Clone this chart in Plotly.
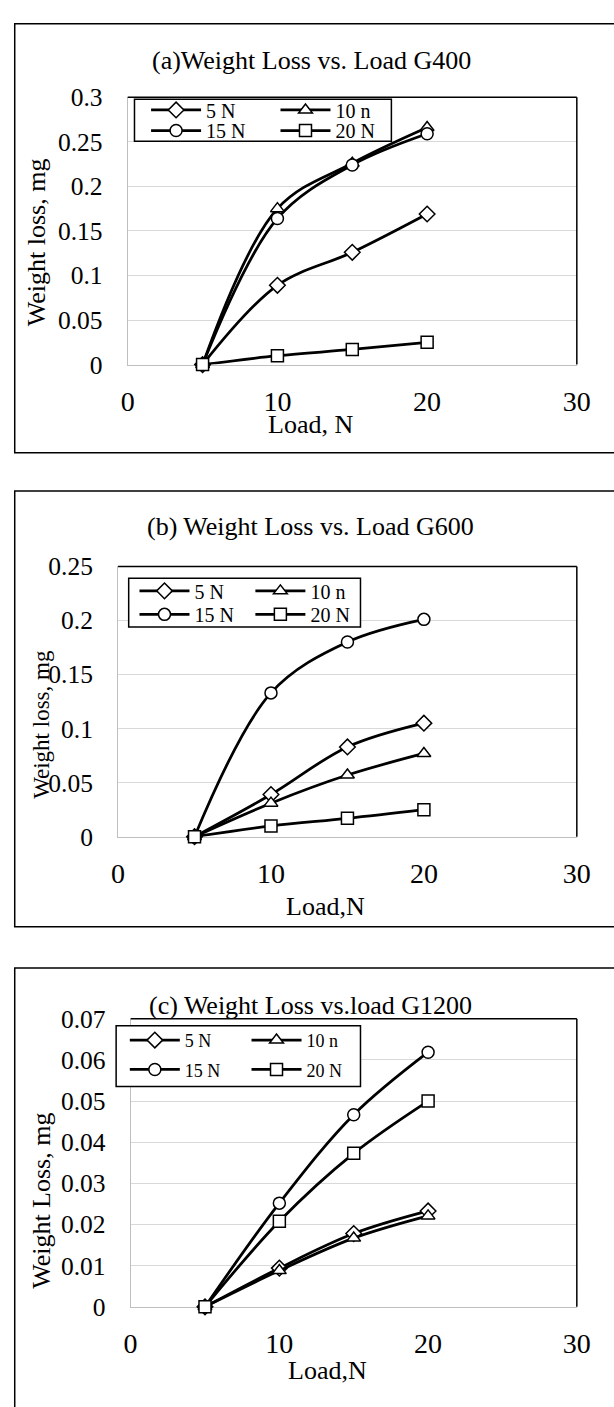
import plotly.graph_objects as go

W, H = 614, 1407
FONT = "Liberation Serif, Times New Roman, serif"

# Load values (N) shared by every panel
loads = [5, 10, 15, 20]

# Series names and marker symbols
series_names = ["5 N", "10 n", "15 N", "20 N"]
series_symbols = ["diamond", "triangle-up", "circle", "square"]

# (a) G400 weight loss, mg
g400_5N = [0, 0.089, 0.126, 0.169]
g400_10n = [0, 0.175, 0.226, 0.266]
g400_15N = [0, 0.164, 0.224, 0.259]
g400_20N = [0, 0.010, 0.017, 0.025]

# (b) G600 weight loss, mg
g600_5N = [0, 0.039, 0.083, 0.105]
g600_10n = [0, 0.031, 0.057, 0.077]
g600_15N = [0, 0.133, 0.180, 0.201]
g600_20N = [0, 0.010, 0.017, 0.025]

# (c) G1200 weight loss, mg
g1200_5N = [0, 0.0094, 0.0178, 0.0233]
g1200_10n = [0, 0.0088, 0.0167, 0.0221]
g1200_15N = [0, 0.0252, 0.0467, 0.0619]
g1200_20N = [0, 0.0208, 0.0373, 0.0500]

# Axis tick values
x_ticks = [0, 10, 20, 30]
y_ticks_a = [0, 0.05, 0.1, 0.15, 0.2, 0.25, 0.3]
y_ticks_b = [0, 0.05, 0.1, 0.15, 0.2, 0.25]
y_ticks_c = [0, 0.01, 0.02, 0.03, 0.04, 0.05, 0.06, 0.07]


def px_x(v):
    """Pixel column -> paper x."""
    return v / W


def px_y(v):
    """Pixel row (from top) -> paper y."""
    return 1 - v / H


panels = [
    dict(
        series=[g400_5N, g400_10n, g400_15N, g400_20N],
        yticks=y_ticks_a,
        title="(a)Weight Loss vs. Load G400",
        title_xy=(315, 47),
        xlabel="Load, N", xlabel_xy=(314, 419),
        ylabel="Weight loss, mg", ylabel_xy=(30, 233), ylabel_size=26,
        plot=(125, 590, 85, 358),
        frame=(8, 640, 10, 448),
        legend_box=(132, 398, 87, 130),
        legend_cols=(175, 309), legend_rows=(98, 119), legend_size=20,
    ),
    dict(
        series=[g600_5N, g600_10n, g600_15N, g600_20N],
        yticks=y_ticks_b,
        title="(b) Weight Loss vs. Load G600",
        title_xy=(314, 523),
        xlabel="Load,N", xlabel_xy=(330, 911),
        ylabel="Weight loss, mg", ylabel_xy=(35, 725), ylabel_size=23,
        plot=(115, 590, 564, 840),
        frame=(8, 640, 487, 932),
        legend_box=(126, 366, 576, 626),
        legend_cols=(163, 283), legend_rows=(589, 613), legend_size=20,
    ),
    dict(
        series=[g1200_5N, g1200_10n, g1200_15N, g1200_20N],
        yticks=y_ticks_c,
        title="(c) Weight Loss vs.load G1200",
        title_xy=(314, 1012),
        xlabel="Load,N", xlabel_xy=(332, 1385),
        ylabel="Weight Loss, mg", ylabel_xy=(35, 1212), ylabel_size=26,
        plot=(128, 590, 1026, 1320),
        frame=(8, 640, 974, 1440),
        legend_box=(113, 366, 1033, 1095),
        legend_cols=(153, 279), legend_rows=(1048, 1078), legend_size=18,
    ),
]

fig = go.Figure()
shapes = []
annotations = []
layout = {}
legend_idx = 0

for p_i, p in enumerate(panels):
    suffix = "" if p_i == 0 else str(p_i + 1)
    xa, ya = "x" + suffix, "y" + suffix
    l, r, t, b = p["plot"]

    # outer chart frame
    fl, fr, ft, fb = p["frame"]
    shapes.append(dict(type="rect", xref="paper", yref="paper",
                       x0=px_x(fl), x1=px_x(fr), y0=px_y(fb), y1=px_y(ft),
                       line=dict(color="black", width=1.5), layer="below"))
    # top and right edge of the plot area
    shapes.append(dict(type="line", xref="paper", yref="paper",
                       x0=px_x(l), x1=px_x(r), y0=px_y(t), y1=px_y(t),
                       line=dict(color="black", width=1.5), layer="above"))
    shapes.append(dict(type="line", xref="paper", yref="paper",
                       x0=px_x(r), x1=px_x(r), y0=px_y(b), y1=px_y(t),
                       line=dict(color="black", width=1.5), layer="above"))
    # legend box
    bl, br, bt, bb = p["legend_box"]
    shapes.append(dict(type="rect", xref="paper", yref="paper",
                       x0=px_x(bl), x1=px_x(br), y0=px_y(bb), y1=px_y(bt),
                       fillcolor="white", line=dict(color="black", width=1.5),
                       layer="above"))

    for s_i, (name, sym, vals) in enumerate(zip(series_names, series_symbols, p["series"])):
        legend_idx += 1
        lname = "legend" if legend_idx == 1 else "legend%d" % legend_idx
        col, row = s_i % 2, s_i // 2
        fig.add_trace(go.Scatter(
            x=loads, y=vals, name=name, xaxis=xa, yaxis=ya,
            mode="lines+markers",
            line=dict(color="black", width=2.75, shape="spline", smoothing=1.0),
            marker=dict(symbol=sym, size=12, color="white",
                        line=dict(color="black", width=1.5)),
            cliponaxis=False, legend=lname, showlegend=True,
        ))
        # one legend per entry, laid out as a 2 x 2 grid inside the box
        mx = p["legend_cols"][col]
        my = p["legend_rows"][row]
        layout[lname] = dict(
            x=px_x(mx - 31), y=px_y(my), xanchor="left", yanchor="middle",
            bgcolor="rgba(0,0,0,0)", borderwidth=0, itemwidth=50,
            font=dict(family=FONT, size=p["legend_size"], color="black"),
        )

    layout["xaxis" + suffix] = dict(
        domain=[px_x(l), px_x(r)], anchor=ya, range=[0, 30],
        tickvals=x_ticks, showgrid=False, zeroline=False,
        showline=True, linecolor="#bfbfbf", linewidth=1, ticks="",
        ticklabelstandoff=12, layer="below traces",
        tickfont=dict(family=FONT, size=28, color="black"),
    )
    layout["yaxis" + suffix] = dict(
        domain=[px_y(b), px_y(t)], anchor=xa,
        range=[0, p["yticks"][-1]], tickvals=p["yticks"],
        showgrid=True, gridcolor="#d9d9d9", gridwidth=1.2, zeroline=False,
        showline=True, linecolor="#bfbfbf", linewidth=1, ticks="",
        ticklabelstandoff=19, layer="below traces",
        tickfont=dict(family=FONT, size=25.5, color="black"),
    )

    tx, ty = p["title_xy"]
    annotations.append(dict(text=p["title"], x=px_x(tx), y=px_y(ty), xref="paper", yref="paper",
                            showarrow=False, xanchor="center", yanchor="middle",
                            font=dict(family=FONT, size=26, color="black")))
    lx, ly = p["xlabel_xy"]
    annotations.append(dict(text=p["xlabel"], x=px_x(lx), y=px_y(ly), xref="paper", yref="paper",
                            showarrow=False, xanchor="center", yanchor="middle",
                            font=dict(family=FONT, size=26, color="black")))
    yx, yy = p["ylabel_xy"]
    annotations.append(dict(text=p["ylabel"], x=px_x(yx), y=px_y(yy), xref="paper", yref="paper",
                            showarrow=False, xanchor="center", yanchor="middle", textangle=-90,
                            font=dict(family=FONT, size=p["ylabel_size"], color="black")))

fig.update_layout(
    width=W, height=H,
    margin=dict(l=0, r=0, t=0, b=0),
    paper_bgcolor="white", plot_bgcolor="white",
    font=dict(family=FONT, color="black"),
    shapes=shapes, annotations=annotations,
    **layout,
)

fig.write_html("out.html")
